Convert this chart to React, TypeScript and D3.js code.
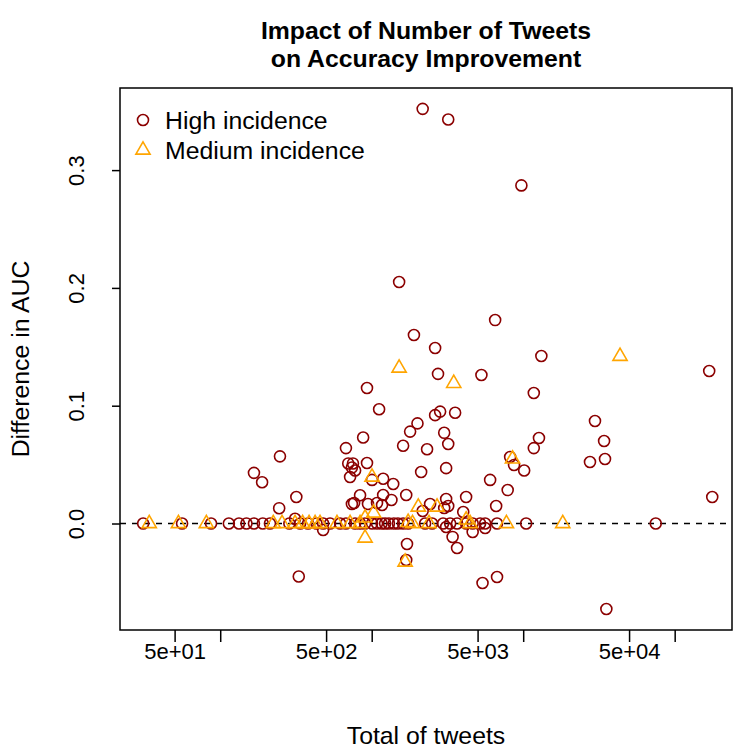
import React, { useEffect, useRef } from 'react';
import * as d3 from 'd3';

// High incidence: total tweets vs difference in AUC
const highTweets = [
  31, 56, 87, 114, 133, 149, 167, 191, 213, 286, 337, 380, 432, 478, 531, 619, 676, 777, 838, 904,
  1005, 1084, 1162, 1226, 1300, 1400, 1490, 1612, 1740, 2252, 2505, 2960, 3294, 3660, 4200, 4640,
  5197, 5608, 6720, 10460, 75000,
  312, 248, 167, 189, 318, 245, 330, 478, 931, 1119, 2005, 1793, 2622, 2829, 3554, 3010, 3200, 1612,
  2320, 878, 676, 700, 752, 740, 777, 720, 931, 3100, 2120, 1190, 1387, 1005, 6050, 838, 765, 740,
  945, 1084, 1170, 1190, 1350, 1690, 2430, 3100, 3200, 3010, 4200, 4020, 6630, 2170, 3100, 3420,
  3660, 4640, 5608, 1710, 1690, 5390, 6720, 6528, 13180, 5300, 11750, 169000, 29780, 34200, 27600,
  34680, 12710, 11750, 8200, 8700, 10150, 7900, 177000, 35400, 2170, 3200, 9730, 1517, 1900, 2622,
  2740,
];
const highAuc = [
  0, 0, 0, 0, 0, 0, 0, 0, 0, 0, 0, 0, 0, 0, 0, 0, 0, 0, 0, 0,
  0, 0, 0, 0, 0, 0, 0, 0, 0, 0, 0, 0, 0, 0, 0, 0,
  0, 0, 0, 0, 0,
  0.004, 0.057, 0.043, 0.035, 0.0225, 0.013, -0.045, -0.0055, 0.115, 0.097, 0.085, 0.078, 0.092, 0.095, 0.094, 0.077, 0.0675, 0.066,
  0.063, 0.073, 0.064, 0.051, 0.051, 0.0475, 0.045, 0.0395, 0.0514, 0.047, 0.0437, 0.038, 0.0335, 0.037, 0.037, 0.024, 0.0174, 0.0166,
  0.0166, 0.0174, 0.0157, 0.0242, 0.02, 0.0242, 0.0166, 0.0208, 0.0149, 0.0132, 0.0225, 0.0098, 0.0149, 0.0106, -0.003, -0.0114,
  -0.0208, -0.0072, -0.0038, -0.0174, -0.031, -0.0505, -0.0454, 0.1727, 0.1422, 0.1261, 0.1108, 0.1295, 0.087, 0.07, 0.0522,
  0.0548, 0.0726, 0.064, 0.0565, 0.0497, 0.045, 0.0284, 0.0225, -0.0726, 0.352, 0.343, 0.287, 0.205, 0.16, 0.149,
  0.127,
];

// Medium incidence
const mediumTweets = [
  34, 53, 81, 224, 256, 312, 350, 386, 423, 456, 590, 720, 838, 904, 1030, 1740, 1860, 2390, 2030,
  2700, 4200, 4464, 7750, 18250, 904, 1662, 1005, 1517, 3480, 8500, 43580,
];
const mediumAuc = [
  0, 0, 0, 0, 0, 0, 0, 0, 0, 0, 0, 0, 0, 0.0047, 0.0089, 0.001, 0, 0, 0.014,
  0.014, 0.003, 0, 0, 0, -0.0123, -0.0327, 0.0395, 0.132, 0.119, 0.0548, 0.142,
];

const xTicks = [50, 100, 500, 1000, 5000, 10000, 50000, 100000];
const xTickLabels = ['5e+01', '', '5e+02', '', '5e+03', '', '5e+04', ''];
const yTicks = [0, 0.1, 0.2, 0.3];
const yTickLabels = ['0.0', '0.1', '0.2', '0.3'];
const seriesNames = ['High incidence', 'Medium incidence'];

const App = () => {
  const svgRef = useRef<SVGSVGElement>(null);

  useEffect(() => {
    const svg = d3.select(svgRef.current);
    svg.selectAll('*').remove();

    const width = 750;
    const height = 750;
    const left = 120, right = 732, top = 88, bottom = 630;
    const font = '"Liberation Sans", Arial, Helvetica, sans-serif';
    const circleColor = '#8B0000';
    const triColor = '#FFA500';

    svg.attr('width', width).attr('height', height);
    svg.append('rect').attr('width', width).attr('height', height).attr('fill', '#fff');

    const x = d3.scaleLog().domain([21.8, 239000]).range([left, right]);
    const y = d3.scaleLinear().domain([-0.0904, 0.3697]).range([bottom, top]);

    // Title
    const title = svg.append('text')
      .attr('text-anchor', 'middle')
      .style('font-family', font)
      .style('font-weight', 'bold')
      .style('font-size', '24.8px');
    title.append('tspan').attr('x', (left + right) / 2).attr('y', 39).text('Impact of Number of Tweets');
    title.append('tspan').attr('x', (left + right) / 2).attr('y', 67).text('on Accuracy Improvement');

    // zero reference line
    svg.append('line')
      .attr('x1', left).attr('x2', right)
      .attr('y1', y(0)).attr('y2', y(0))
      .attr('stroke', '#000')
      .attr('stroke-width', 1.5)
      .attr('stroke-dasharray', '6,6');

    // High incidence circles
    const high = highTweets.map((t, i) => [t, highAuc[i]]);
    svg.append('g').selectAll('circle')
      .data(high)
      .enter()
      .append('circle')
      .attr('cx', d => x(d[0]))
      .attr('cy', d => y(d[1]))
      .attr('r', 5.5)
      .attr('fill', 'none')
      .attr('stroke', circleColor)
      .attr('stroke-width', 1.6);

    // Medium incidence triangles
    const tri = (cx: number, cy: number) =>
      `M${cx},${cy - 8.2}L${cx + 7.1},${cy + 4.1}L${cx - 7.1},${cy + 4.1}Z`;
    const medium = mediumTweets.map((t, i) => [t, mediumAuc[i]]);
    svg.append('g').selectAll('path')
      .data(medium)
      .enter()
      .append('path')
      .attr('d', d => tri(x(d[0]), y(d[1])))
      .attr('fill', 'none')
      .attr('stroke', triColor)
      .attr('stroke-width', 1.6);

    // Box
    svg.append('rect')
      .attr('x', left).attr('y', top)
      .attr('width', right - left).attr('height', bottom - top)
      .attr('fill', 'none')
      .attr('stroke', '#000')
      .attr('stroke-width', 1.5);

    // X Axis
    const xAxis = svg.append('g')
      .attr('transform', `translate(0,${bottom})`)
      .call(d3.axisBottom(x).tickValues(xTicks).tickSize(12).tickPadding(1)
        .tickFormat((d, i) => xTickLabels[i]));
    xAxis.select('.domain').remove();
    xAxis.selectAll('line').attr('stroke', '#000').attr('stroke-width', 1.5);
    xAxis.selectAll('text')
      .attr('fill', '#000')
      .style('font-family', font)
      .style('font-size', '22px');

    // Y Axis
    const yAxis = svg.append('g')
      .attr('transform', `translate(${left},0)`)
      .call(d3.axisLeft(y).tickValues(yTicks).tickSize(8)
        .tickFormat((d, i) => yTickLabels[i]));
    yAxis.select('.domain').remove();
    yAxis.selectAll('line').attr('stroke', '#000').attr('stroke-width', 1.5);
    yAxis.selectAll('text')
      .attr('fill', '#000')
      .attr('x', null)
      .attr('dy', null)
      .attr('transform', 'translate(-36,0) rotate(-90)')
      .attr('text-anchor', 'middle')
      .style('font-family', font)
      .style('font-size', '22px');

    // Axis titles
    svg.append('text')
      .attr('x', (left + right) / 2)
      .attr('y', 744)
      .attr('text-anchor', 'middle')
      .style('font-family', font)
      .style('font-size', '24.8px')
      .text('Total of tweets');
    svg.append('text')
      .attr('transform', `translate(29,${(top + bottom) / 2}) rotate(-90)`)
      .attr('text-anchor', 'middle')
      .style('font-family', font)
      .style('font-size', '24.8px')
      .text('Difference in AUC');

    // Legend
    const lg = svg.append('g');
    lg.append('circle')
      .attr('cx', 143).attr('cy', 120).attr('r', 5.5)
      .attr('fill', 'none').attr('stroke', circleColor).attr('stroke-width', 1.6);
    lg.append('path')
      .attr('d', tri(143, 150))
      .attr('fill', 'none').attr('stroke', triColor).attr('stroke-width', 1.6);
    seriesNames.forEach((name, i) => {
      lg.append('text')
        .attr('x', 165)
        .attr('y', 129 + i * 30)
        .style('font-family', font)
        .style('font-size', '24.8px')
        .text(name);
    });
  }, []);

  return (
    <div style={{ position: 'absolute', left: 0, top: 0 }}>
      <svg ref={svgRef} />
    </div>
  );
};

export default App;
